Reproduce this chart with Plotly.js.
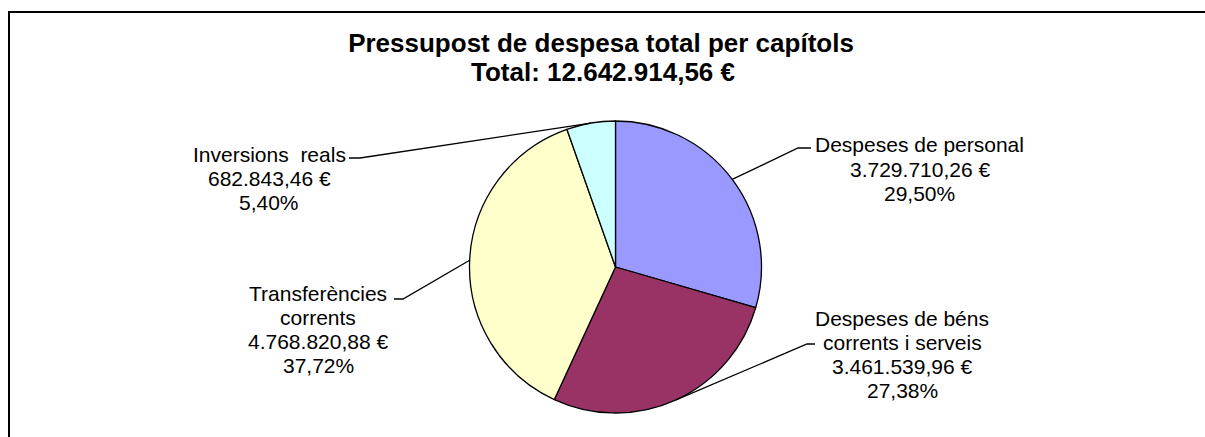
<!DOCTYPE html>
<html>
<head>
<meta charset="utf-8">
<script src="https://cdn.plot.ly/plotly-3.0.1.min.js"></script>
<style>html,body{margin:0;padding:0;background:#fff;}#chart{width:1205px;height:437px;}</style>
</head>
<body>
<div id="chart"></div>
<script>
// ---- data ----
const categories = ["Despeses de personal", "Despeses de béns corrents i serveis", "Transferències corrents", "Inversions reals"];
const labelLines = [["Despeses de personal"], ["Despeses de béns", "corrents i serveis"], ["Transferències", "corrents"], ["Inversions\u00A0 reals"]];
const values = [3729710.26, 3461539.96, 4768820.88, 682843.46];
const colors = ["#9999FF", "#993366", "#FFFFCC", "#CCFFFF"];
const titleLines = ["Pressupost de despesa total per capítols", "Total: 12.642.914,56 €"];

// ---- layout helpers (pixel geometry) ----
const W = 1205, H = 437;
const X = p => p / W, Y = p => 1 - p / H;
const cx = 615.5, cy = 267, R = 146;
const FONT = "Liberation Sans, Arial, sans-serif";

function fmtEuro(v) {
  const parts = v.toFixed(2).split(".");
  const intp = parts[0].replace(/\B(?=(\d{3})+(?!\d))/g, ".");
  return intp + "," + parts[1] + " €";
}
const total = values.reduce((a, b) => a + b, 0);
function fmtPct(v) { return (v / total * 100).toFixed(2).replace(".", ",") + "%"; }

// label placement (pixel): centre x, first line centre y, elbow points
const labelPos = [
  {x: 920, y: 145, elbow: [[798, 148], [811, 148]]},
  {x: 902, y: 318, elbow: [[807, 344], [815, 344]]},
  {x: 318, y: 293, elbow: [[403, 299], [394, 299]]},
  {x: 269, y: 154, elbow: [[360, 158], [349, 158]]}
];
const LINE = 24;

const annotations = [];
const shapes = [];
let cum = 0;
values.forEach((v, i) => {
  const mid = (cum + v / 2) / total * 2 * Math.PI;
  cum += v;
  const ex = cx + R * Math.sin(mid), ey = cy - R * Math.cos(mid);
  const lines = labelLines[i].concat([fmtEuro(v), fmtPct(v)]);
  const lp = labelPos[i];
  lines.forEach((t, k) => {
    annotations.push({
      xref: "paper", yref: "paper", x: X(lp.x), y: Y(lp.y + k * LINE),
      xanchor: "center", yanchor: "middle", showarrow: false,
      text: t, font: {family: FONT, size: 21, color: "#000"}
    });
  });
  const pts = [[ex, ey]].concat(lp.elbow);
  const path = pts.map((p, j) => (j ? "L" : "M") + X(p[0]) + "," + Y(p[1])).join(" ");
  shapes.push({type: "path", xref: "paper", yref: "paper", path: path, line: {color: "#000", width: 1.3}});
});

// second title line
annotations.push({
  xref: "paper", yref: "paper", x: X(603), y: Y(72), xanchor: "center", yanchor: "middle",
  showarrow: false, text: "<b>" + titleLines[1] + "</b>",
  font: {family: FONT, size: 26, color: "#000"}
});

// outer frame (left and top edges visible)
shapes.push({type: "rect", xref: "paper", yref: "paper", x0: X(9), x1: 1.05, y0: -0.05, y1: Y(12),
  line: {color: "#000", width: 2}, fillcolor: "rgba(0,0,0,0)"});

const data = [{
  type: "pie",
  labels: categories,
  values: values,
  sort: false,
  direction: "clockwise",
  rotation: 0,
  marker: {colors: colors, line: {color: "#000", width: 1.3}},
  textinfo: "none",
  hoverinfo: "none",
  domain: {x: [X(cx - R), X(cx + R)], y: [Y(cy + R), Y(cy - R)]},
  showlegend: false
}];

const layout = {
  width: W, height: H,
  margin: {l: 0, r: 0, t: 0, b: 0},
  paper_bgcolor: "#fff",
  showlegend: false,
  title: {
    text: "<b>" + titleLines[0] + "</b>",
    font: {family: FONT, size: 26, color: "#000"},
    x: X(601), xanchor: "center", xref: "paper",
    y: Y(43), yanchor: "middle", yref: "container"
  },
  annotations: annotations,
  shapes: shapes
};

Plotly.newPlot("chart", data, layout, {staticPlot: true, displayModeBar: false});
</script>
</body>
</html>
